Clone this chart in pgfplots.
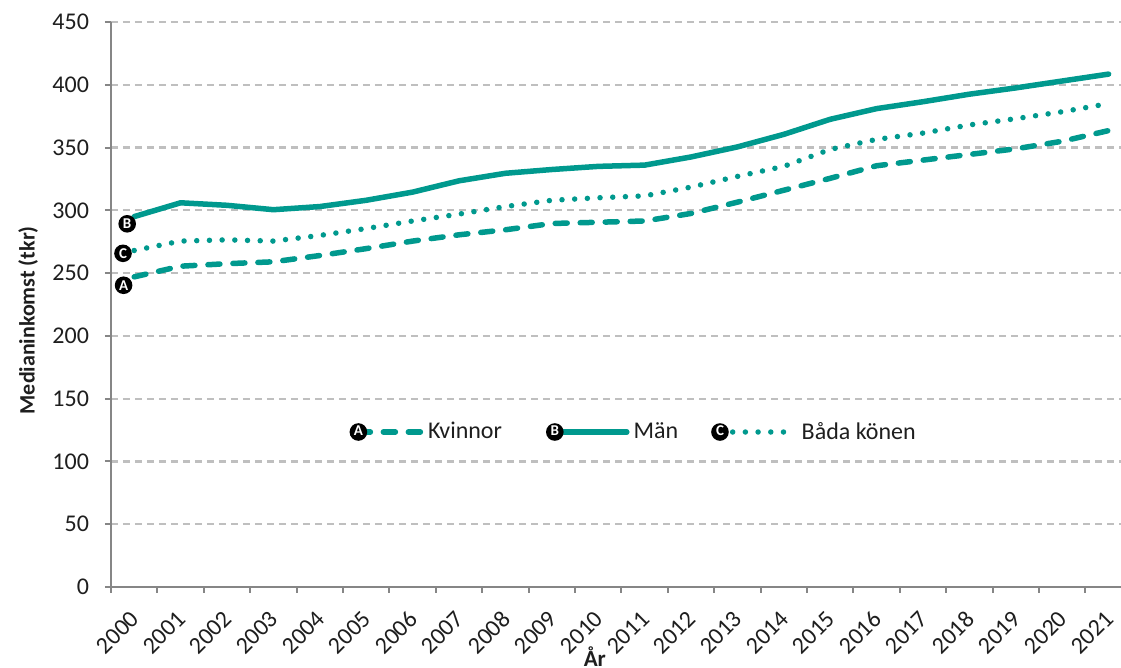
\documentclass[border=0pt]{standalone}
\usepackage{fontspec}
\setmainfont{Carlito}
\usepackage{pgfplots}
\pgfplotsset{compat=1.18}
\definecolor{teal1}{RGB}{0,153,142}
\definecolor{axgrey}{RGB}{134,134,134}
\definecolor{gridgrey}{RGB}{191,191,191}
\definecolor{txt}{RGB}{30,30,30}
\tikzset{
  lab/.style={circle, fill=black, text=white, inner sep=0pt, minimum size=8.8pt, anchor=center, font=\fontsize{7.5}{8}\selectfont\bfseries},
  kv/.style={teal1, line width=2.75pt, line cap=round, line join=round, dash pattern=on 6pt off 6.5pt},
  ma/.style={teal1, line width=2.75pt, line cap=round, line join=round},
  bk/.style={teal1, line width=2.75pt, line cap=round, dash pattern=on 0pt off 6.35pt},
}
\begin{document}
\begin{tikzpicture}
\begin{axis}[name=ax, scale only axis, width=510.4pt, height=282.5pt,
  xmin=1999.5, xmax=2021.5, ymin=0, ymax=450,
  axis lines*=left,
  axis line style={axgrey, line width=1pt},
  tick align=outside, major tick length=3pt,
  tick style={axgrey, line width=1pt},
  /pgf/number format/assume math mode=true,
  tick label style={font=\fontsize{12}{14}\selectfont, text=txt},
  ytick={0,50,...,450},
  yticklabel style={xshift=-4.5pt},
  ymajorgrids, grid style={gridgrey, line width=1.1pt, dash pattern=on 3.5pt off 2.5pt},
  xtick={1999.5,2000.5,...,2020.5}, xticklabel=\empty,
  extra x ticks={2000,2001,...,2021},
  extra x tick labels={2000,2001,2002,2003,2004,2005,2006,2007,2008,2009,2010,2011,2012,2013,2014,2015,2016,2017,2018,2019,2020,2021},
  extra x tick style={major tick length=0pt},
  xticklabel style={yshift=-14pt, xshift=0.5pt, rotate=45, anchor=east, inner sep=0pt},
  ylabel={Medianinkomst (tkr)},
  xlabel={År},
  every axis y label/.style={at={(axis description cs:-0.0813,0.472)}, rotate=90, anchor=center,
     font=\fontsize{11}{13}\selectfont\bfseries, text=txt},
  every axis x label/.style={at={(axis description cs:0.474,-0.1416)}, anchor=base,
     font=\fontsize{11.5}{13}\selectfont\bfseries, text=txt},
  legend columns=3,
  legend style={draw=none, fill=none, at={(0.513,0.2743)}, anchor=center,
    font=\fontsize{12}{14}\selectfont, text=txt,
    /tikz/column 2/.style={column sep=20pt},
    /tikz/column 4/.style={column sep=14.5pt}},
  legend cell align=left,
]
\addplot[kv, legend image code/.code={\draw[kv] (0pt,0pt) -- (31.5pt,0pt); \node[lab] at (0pt,0pt) {A};}]
coordinates {(2000,247) (2001,255.5) (2002,257.5) (2003,259) (2004,264) (2005,269.5) (2006,275.5) (2007,280.5) (2008,284.5) (2009,289.5) (2010,290.5) (2011,291.5) (2012,297.5) (2013,306.5) (2014,316) (2015,325.5) (2016,335.5) (2017,340) (2018,344.5) (2019,349) (2020,355) (2021,363.5)}
node[pos=0, lab, xshift=-5.3pt, yshift=-4.2pt] {A};
\addlegendentry{Kvinnor}
\addplot[ma, legend image code/.code={\draw[ma] (0pt,0pt) -- (36pt,0pt); \node[lab] at (0pt,0pt) {B};}]
coordinates {(2000,295) (2001,306) (2002,304) (2003,300.5) (2004,303) (2005,308) (2006,314.5) (2007,323.5) (2008,329.5) (2009,332.5) (2010,335) (2011,336) (2012,342.5) (2013,350.5) (2014,360.5) (2015,372.5) (2016,381) (2017,386.5) (2018,392.5) (2019,397.5) (2020,403) (2021,408.5)}
node[pos=0, lab, xshift=-3.5pt, yshift=-3.6pt] {B};
\addlegendentry{Män}
\addplot[bk, legend image code/.code={\draw[bk] (0pt,0pt) -- (37.5pt,0pt); \node[lab] at (0pt,0pt) {C};}]
coordinates {(2000,268) (2001,275.5) (2002,276.5) (2003,275.5) (2004,280) (2005,285.5) (2006,291.5) (2007,297) (2008,303) (2009,308) (2010,310) (2011,311.5) (2012,318.5) (2013,327) (2014,335) (2015,348.5) (2016,356.5) (2017,361.5) (2018,368) (2019,373) (2020,378.5) (2021,385)}
node[pos=0, lab, xshift=-5.6pt, yshift=-1.4pt] {C};
\addlegendentry{Båda könen}
\end{axis}
\pgfresetboundingbox
\path[use as bounding box] ([xshift=-55.5pt,yshift=-40.5pt]ax.south west) rectangle ([xshift=505pt,yshift=293.5pt]ax.south west);
\end{tikzpicture}
\end{document}
